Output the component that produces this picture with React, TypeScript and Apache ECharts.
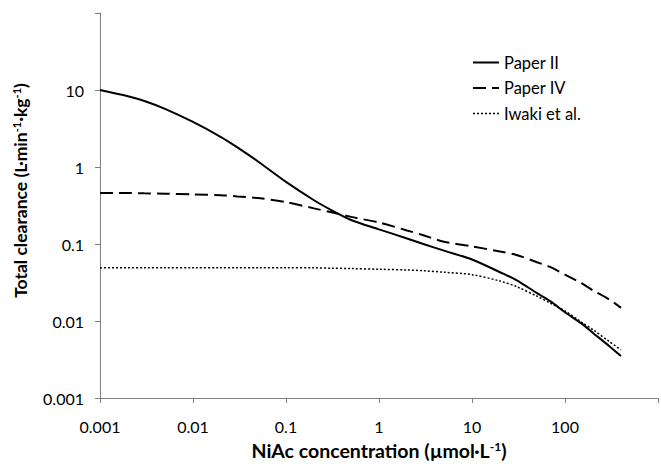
import React, { useEffect, useRef } from "react";
import * as echarts from "echarts";

const concentrations = [0.001, 0.002, 0.003, 0.005, 0.01, 0.02, 0.03, 0.05, 0.1, 0.2, 0.3, 0.5, 1, 2, 3, 5, 10, 20, 30, 50, 70, 100, 150, 200, 300, 400];
const paperII = [10, 8.3, 7.2, 5.7, 3.85, 2.45, 1.8, 1.18, 0.64, 0.37, 0.28, 0.205, 0.155, 0.118, 0.1, 0.082, 0.063, 0.043, 0.034, 0.023, 0.018, 0.013, 0.0093, 0.007, 0.0047, 0.0035];
const paperIV = [0.46, 0.46, 0.455, 0.45, 0.44, 0.43, 0.415, 0.395, 0.35, 0.29, 0.26, 0.225, 0.19, 0.15, 0.13, 0.107, 0.093, 0.08, 0.072, 0.058, 0.05, 0.04, 0.031, 0.025, 0.019, 0.0148];
const iwaki = [0.049, 0.049, 0.049, 0.049, 0.049, 0.049, 0.049, 0.049, 0.049, 0.049, 0.0485, 0.048, 0.047, 0.046, 0.045, 0.043, 0.04, 0.033, 0.028, 0.021, 0.017, 0.0135, 0.0097, 0.0077, 0.0054, 0.0042];

const xTickLabels = ["0.001", "0.01", "0.1", "1", "10", "100", ""];
const yTickLabels = ["0.001", "0.01", "0.1", "1", "10", ""];

const seriesNames = ["Paper II", "Paper IV", "Iwaki et al."];

const FONT = "Lato, 'Open Sans', sans-serif";

export default function App() {
  const ref = useRef<HTMLDivElement>(null);
  useEffect(() => {
    if (!ref.current) return;
    const chart = echarts.init(ref.current, null, { renderer: "svg" });
    const pair = (ys: number[]) => concentrations.map((x, i) => [x, ys[i]]);
    const axisLineStyle = { color: "#7f7f7f", width: 1 };
    const lineStyles: any[] = [
      { color: "#000", width: 2, type: "solid" },
      { color: "#000", width: 2, type: [13, 6] },
      { color: "#000", width: 1.5, type: [2, 2] },
    ];
    chart.setOption({
      animation: false,
      backgroundColor: "#ffffff",
      textStyle: { fontFamily: FONT },
      grid: { left: 100, top: 13, width: 569, height: 385, containLabel: false },
      legend: {
        orient: "vertical",
        left: 467,
        top: 49,
        itemWidth: 26,
        itemHeight: 14,
        itemGap: 8.5,
        itemStyle: { opacity: 0, borderWidth: 0 },
        data: seriesNames.map((n, i) => ({ name: n, lineStyle: lineStyles[i], itemStyle: { opacity: 0 } })),
        textStyle: { fontFamily: FONT, fontSize: 16.5, color: "#000" },
      },
      xAxis: {
        type: "log",
        logBase: 10,
        min: 0.001,
        max: 1000,
        splitLine: { show: false },
        axisLine: { lineStyle: axisLineStyle },
        axisTick: { show: true, length: 5, lineStyle: axisLineStyle },
        axisLabel: {
          margin: 20,
          fontSize: 16,
          color: "#000",
          fontFamily: FONT,
          formatter: (v: number) => xTickLabels[Math.round(Math.log10(v)) + 3] ?? "",
        },
        name: "NiAc concentration (µmol·L{sup|-1})",
        nameLocation: "middle",
        nameGap: 42,
        nameTextStyle: {
          fontSize: 19.5,
          fontWeight: "bold",
          color: "#000",
          fontFamily: FONT,
          rich: { sup: { fontSize: 12, fontWeight: "bold", padding: [0, 0, 9, 0], fontFamily: FONT, color: "#000" } },
        },
      },
      yAxis: {
        type: "log",
        logBase: 10,
        min: 0.001,
        max: 100,
        splitLine: { show: false },
        axisLine: { show: true, lineStyle: axisLineStyle },
        axisTick: { show: true, length: 5, lineStyle: axisLineStyle },
        axisLabel: {
          margin: 16,
          fontSize: 16,
          color: "#000",
          fontFamily: FONT,
          formatter: (v: number) => yTickLabels[Math.round(Math.log10(v)) + 3] ?? "",
        },
        name: "Total clearance (L·min{sup|-1}·kg{sup|-1})",
        nameLocation: "middle",
        nameGap: 70,
        nameTextStyle: {
          fontSize: 17.5,
          fontWeight: "bold",
          color: "#000",
          fontFamily: FONT,
          padding: [0, 0, 0, 30],
          rich: { sup: { fontSize: 11, fontWeight: "bold", padding: [0, 0, 8, 0], fontFamily: FONT, color: "#000" } },
        },
      },
      series: seriesNames.map((n, i) => ({
        name: n,
        type: "line",
        data: pair([paperII, paperIV, iwaki][i]),
        symbol: "none",
        smooth: 0.3,
        lineStyle: lineStyles[i],
        itemStyle: { color: "#000" },
      })),
    });
    return () => chart.dispose();
  }, []);
  return <div ref={ref} style={{ width: 661, height: 470, position: "absolute", left: 0, top: 0 }} />;
}
